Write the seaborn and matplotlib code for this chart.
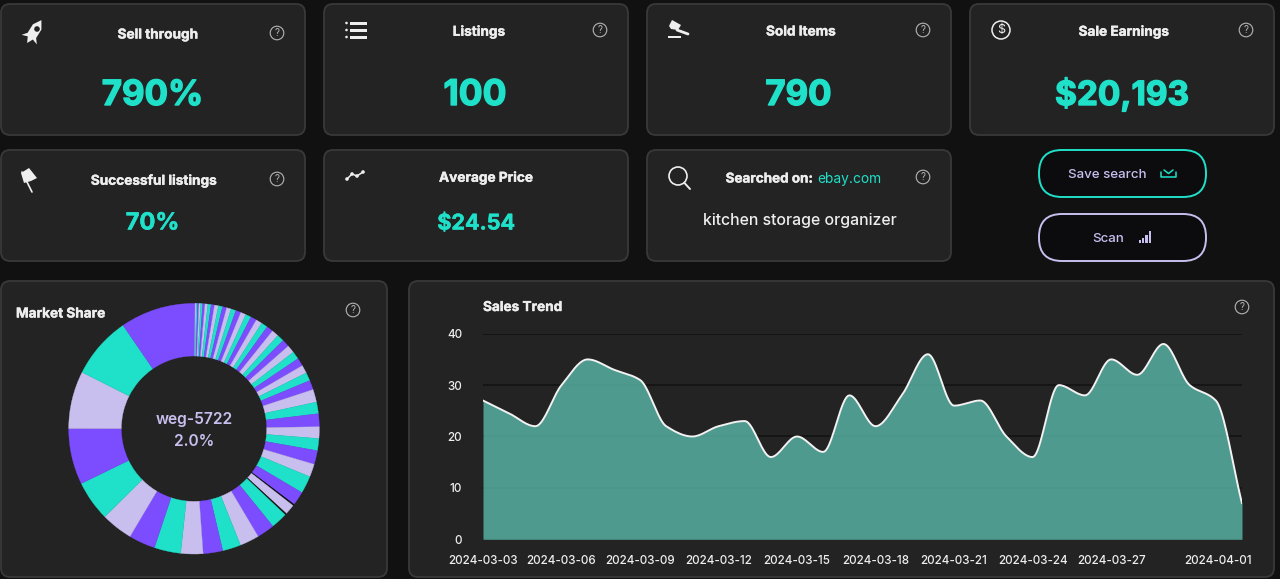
import numpy as np
import pandas as pd
import matplotlib
matplotlib.use("Agg")
import matplotlib.pyplot as plt
import matplotlib.patheffects as pe
import seaborn as sns
from matplotlib.patches import FancyBboxPatch, Circle, Polygon, Rectangle
from matplotlib.transforms import ScaledTranslation

# kpi cards
top_titles = ["Sell through", "Listings", "Sold Items", "Sale Earnings"]
top_values = ["790%", "100", "790", "$20,193"]
mid_titles = ["Successful listings", "Average Price"]
mid_values = ["70%", "$24.54"]
search_site = "ebay.com"
search_term = "kitchen storage organizer"

# market share, clockwise from 12 o'clock
shares = [.14, .14, .17, .19, .22, .25, .30, .36, .42, .44, .50, .53, .55, .58, .64,
          .67, .69, .72, .78, .80, .83, .86, .89, .92, .97, 1.0, 1.02, 1.04, 1.05, 1.07,
          1.22, 1.64, 1.50, 1.67, 1.50, 1.56, 1.78, 1.67, 2.25, 1.80, .20, 1.33, .20,
          2.14, 2.28, 2.50, 2.36, 2.53, 2.86, 3.42, 3.42, 4.08, 5.19, 7.22, 7.42, 8.00, 9.58]
black_slices = [40, 42]
selected_name = "weg-5722"
selected_share = "2.0%"

# sales trend
dates = pd.date_range("2024-03-03", "2024-04-01").strftime("%Y-%m-%d").tolist()
sold = [27, 24.5, 22, 30, 35, 33, 31, 22, 20, 22, 23, 16, 20, 17, 28, 22, 28, 36, 26, 27,
        20, 16, 30, 28, 35, 32, 38, 30, 27, 7]
shown_dates = ["2024-03-03", "2024-03-06", "2024-03-09", "2024-03-12", "2024-03-15",
               "2024-03-18", "2024-03-21", "2024-03-24", "2024-03-27", "2024-04-01"]
y_ticks = [0, 10, 20, 30, 40]

PAGE = "#111112"
CARD = "#232323"
EDGE = "#393939"
TEAL = "#1fe0c8"
PURPLE = "#7c4dff"
LILAC = "#c9bfef"
WHITE = "#eeeeee"
W, H = 1280, 579

sns.set_style("dark", {"axes.facecolor": CARD, "figure.facecolor": PAGE})
plt.rcParams["font.family"] = ["Inter", "DejaVu Sans"]


def rect_for(x0, y0, x1, y1):
    return [x0 / W, 1 - y1 / H, (x1 - x0) / W, (y1 - y0) / H]


def smooth(y, per_step=20):
    # monotone cubic through the read values, flat at the turning points
    y = np.asarray(y, float)
    d = np.diff(y)
    m = np.zeros_like(y)
    m[0], m[-1] = d[0], d[-1]
    for i in range(1, len(y) - 1):
        if d[i - 1] * d[i] > 0:
            m[i] = 2 * d[i - 1] * d[i] / (d[i - 1] + d[i])
    xs, ys = [], []
    for i in range(len(y) - 1):
        t = np.linspace(0, 1, per_step, endpoint=False)
        ys.append((2*t**3 - 3*t**2 + 1) * y[i] + (t**3 - 2*t**2 + t) * m[i]
                  + (-2*t**3 + 3*t**2) * y[i + 1] + (t**3 - t**2) * m[i + 1])
        xs.append(i + t)
    return np.r_[np.concatenate(xs), len(y) - 1], np.r_[np.concatenate(ys), y[-1]]


fig = plt.figure(figsize=(W / 100, H / 100), dpi=100, facecolor=PAGE)
bg = fig.add_axes([0, 0, 1, 1])
bg.set_xlim(0, W)
bg.set_ylim(H, 0)
bg.axis("off")


def heavy(width):
    return [pe.withStroke(linewidth=width, foreground="none"), pe.Stroke(linewidth=width), pe.Normal()]


def card(x0, y0, x1, y1, face=CARD, edge=EDGE, r=9, lw=1.3):
    bg.add_patch(FancyBboxPatch((x0 + r, y0 + r), x1 - x0 - 2*r, y1 - y0 - 2*r,
                                boxstyle="round,pad=%d,rounding_size=%d" % (r, r),
                                fc=face, ec=edge, lw=lw))


def helpmark(x, y):
    bg.add_patch(Circle((x, y), 6.8, fc="none", ec="#b5b5b5", lw=0.8))
    bg.text(x, y + 0.3, "?", color="#b5b5b5", fontsize=7, ha="center", va="center")


def title(x, y, s, ha="center", size=9.8):
    t = bg.text(x, y + 1.5, s, color=WHITE, fontsize=size, fontweight="bold", ha=ha, va="center")
    t.set_path_effects([pe.withStroke(linewidth=0.3, foreground=WHITE)])


def value(x, y, s, size, stroke):
    t = bg.text(x, y, s, color=TEAL, fontsize=size, fontweight="bold", ha="center", va="baseline")
    t.set_path_effects([pe.withStroke(linewidth=stroke, foreground=TEAL)])


xs = [(1, 305), (324, 628), (647, 951), (970, 1274)]
title_pos = [(158, 33), (479, 30), (801, 30), (1124, 30)]
value_x = [152.5, 475, 798.5, 1122]
value_size = [25, 25.5, 25, 24]
help_pos = [(277, 33), (600, 30), (923, 30), (1246, 30)]
for i in range(4):
    card(xs[i][0], 4, xs[i][1], 135)
    title(*title_pos[i], top_titles[i])
    value(value_x[i], 105, top_values[i], value_size[i], 1.0)
    helpmark(*help_pos[i])

mid_title_pos = [(154, 179), (486, 176)]
mid_x = [152.5, 476]
mid_size = [17, 15.5]
for i in range(2):
    card(xs[i][0], 150, xs[i][1], 261)
    title(*mid_title_pos[i], mid_titles[i])
    value(mid_x[i], 229.5, mid_values[i], mid_size[i], 0.4)
helpmark(277, 179)

card(647, 150, 951, 261)
title(813, 177, "Searched on:", ha="right", size=9.7)
bg.text(817, 178.5, search_site, color=TEAL, fontsize=9.9, ha="left", va="center")
bg.text(799.5, 221, search_term, color=WHITE, fontsize=11.4, fontweight="medium", ha="center", va="center")
helpmark(923, 177)

# buttons
card(1039, 150, 1206, 197, face="#0c0c0e", edge=TEAL, r=23, lw=1.4)
card(1039, 214, 1206, 261, face="#0c0c0e", edge=LILAC, r=23, lw=1.4)
bg.text(1107, 174.5, "Save search", color=LILAC, fontsize=9.6, fontweight="medium", ha="center", va="center")
bg.text(1108, 238.5, "Scan", color=LILAC, fontsize=9.6, fontweight="medium", ha="center", va="center")
bg.plot([1161, 1161, 1176, 1176], [172, 177, 177, 172], color=TEAL, lw=1.1)
bg.plot([1164, 1168.5, 1173], [170, 173.5, 170], color=TEAL, lw=1.1)
for k, h in enumerate([3, 5, 8, 12]):
    bg.add_patch(Rectangle((1138.5 + k * 3.4, 243 - h), 2.2, h, fc=LILAC, ec="none"))

# icons
rocket = np.array([[0, -14], [5, -6], [5, 4], [9, 9], [3, 7], [0, 13], [-3, 7], [-9, 9], [-5, 4], [-5, -6]], float)
ang = np.radians(32)
rot = np.array([[np.cos(ang), -np.sin(ang)], [np.sin(ang), np.cos(ang)]])
bg.add_patch(Polygon(rocket @ rot.T + [34, 32], fc=WHITE, ec="none"))
bg.add_patch(Circle((37, 29), 2.8, fc=CARD, ec="none"))
for k in range(3):
    bg.add_patch(Circle((346.5, 23 + k * 7), 1.3, fc=WHITE, ec="none"))
    bg.add_patch(Rectangle((350, 21.5 + k * 7), 16.5, 3.4, fc=WHITE, ec="none"))
bg.add_patch(Polygon([[672, 20], [681, 25], [678, 30], [671, 29], [669, 26]], fc=WHITE, ec="none"))
bg.plot([677, 688], [30, 34], color=WHITE, lw=2)
bg.add_patch(Rectangle((668, 36), 13, 2.4, fc=WHITE, ec="none"))
bg.add_patch(Circle((1001, 30), 9, fc="none", ec=WHITE, lw=1.1))
bg.text(1001, 30.5, "$", color=WHITE, fontsize=9, ha="center", va="center")
bg.add_patch(Polygon([[29, 168], [37, 178], [31, 181], [24, 183], [21, 173]], fc=WHITE, ec="none"))
bg.plot([22, 32], [172, 192], color=WHITE, lw=1.2)
bg.plot([347, 352, 357, 363], [179, 174, 176, 172], color=WHITE, lw=1.1)
for px, py in [(347, 179), (352, 174), (357, 176), (363, 172)]:
    bg.add_patch(Circle((px, py), 1.8, fc=WHITE, ec="none"))
bg.add_patch(Circle((678, 176), 9, fc="none", ec=WHITE, lw=1.2))
bg.plot([684.5, 690], [183, 189], color=WHITE, lw=1.4)

# market share donut
card(1, 281, 387, 577)
title(16, 312, "Market Share", ha="left")
helpmark(353, 310)

cycle = [PURPLE, LILAC, TEAL]
slice_colors = []
n = 0
for i in range(len(shares)):
    if i in black_slices:
        slice_colors.append("#0d0d0d")
    else:
        slice_colors.append(cycle[n % 3])
        n += 1

cx, cy, rad = 194, 428.7, 125.3
pie_ax = fig.add_axes(rect_for(cx - rad, cy - rad, cx + rad, cy + rad))
wedges, _ = pie_ax.pie(shares, colors=slice_colors, startangle=90, counterclock=False, radius=1,
                       wedgeprops={"width": 1 - 72.7 / rad})
for w_ in wedges:
    w_.set_edgecolor(w_.get_facecolor())
    w_.set_linewidth(0.25)
pie_ax.set_xlim(-1, 1)
pie_ax.set_ylim(-1, 1)
pie_ax.text(0, 0.07, selected_name, color=LILAC, fontsize=11.2, fontweight="semibold", ha="center", va="center")
pie_ax.text(0, -0.105, selected_share, color=LILAC, fontsize=11.2, fontweight="semibold", ha="center", va="center")

# sales trend
card(409, 281, 1274, 577)
title(483, 305.5, "Sales Trend", ha="left")
helpmark(1242, 307)

ax = fig.add_axes(rect_for(483, 333.7, 1242, 539.3))
ax.patch.set_alpha(0)
curve_x, curve_y = smooth(sold)
df = pd.DataFrame({"day": curve_x, "sold": curve_y})
ax.fill_between(df["day"], 0, df["sold"], color="#5ab9aa", alpha=0.8, lw=0, zorder=2)
sns.lineplot(data=df, x="day", y="sold", color="#f2f2f2", lw=1.4, ax=ax, zorder=3, errorbar=None)
ax.set_xlim(0, len(dates) - 1)
ax.set_ylim(0, 40)
ax.set_xlabel("")
ax.set_ylabel("")
sns.despine(ax=ax, left=True, bottom=True)
ax.set_yticks(y_ticks)
ax.set_xticks([dates.index(d) for d in shown_dates])
ax.set_xticklabels(shown_dates)
ax.tick_params(axis="x", length=0, pad=11, labelsize=8.4, labelcolor=WHITE)
ax.tick_params(axis="y", length=0, pad=15, labelsize=8.4, labelcolor=WHITE)
for lab in ax.get_xticklabels() + ax.get_yticklabels():
    lab.set_fontweight("medium")
ax.grid(axis="y", color="#111111", lw=1.1, zorder=1)
ax.grid(axis="x", visible=False)
ax.set_axisbelow(True)
# last date sits left of its tick in the original
last = ax.get_xticklabels()[-1]
last.set_transform(last.get_transform() + ScaledTranslation(-24 / 100, 0, fig.dpi_scale_trans))

fig.savefig("out.png", dpi=100, facecolor=PAGE)
